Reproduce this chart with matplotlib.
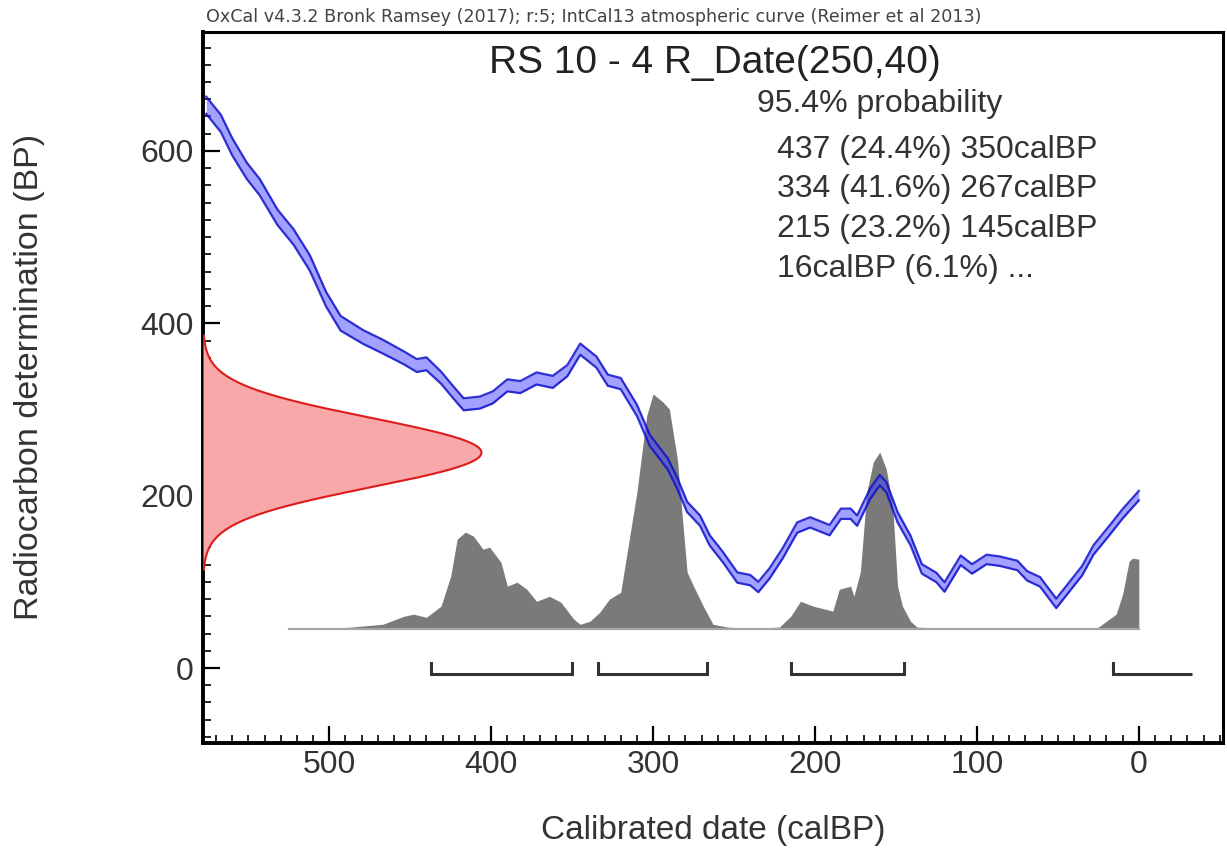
import numpy as np
import matplotlib
matplotlib.use("Agg")
import matplotlib.pyplot as plt
from matplotlib.ticker import MultipleLocator

plt.rcParams['font.family'] = ['Liberation Sans', 'DejaVu Sans']

# ---- data ----
# calibration curve (IntCal13 band): cal BP, radiocarbon BP, 1-sigma half width
CURVE_CAL = [576, 567, 560, 551, 543, 532, 522, 512, 502, 493, 479, 467, 454, 446,
             440, 431, 423, 417, 407, 399, 390, 382, 372, 362, 353, 345, 335, 328,
             320, 310, 302, 291, 285, 279, 271, 265, 257, 248, 240, 235, 228, 220,
             211, 203, 191, 184, 178, 174, 166, 160, 156, 149, 141, 134, 125, 120,
             110, 103, 94, 86, 75, 69, 61, 51, 43, 35, 28, 18, 10, 0]
CURVE_BP = [653, 632, 605, 577, 558, 523, 500, 470, 428, 400, 384, 373, 360, 351,
            353, 337, 319, 306, 308, 314, 328, 326, 336, 332, 345, 370, 355, 334,
            330, 299, 264, 237, 214, 187, 171, 148, 129, 105, 102, 94, 110, 133,
            163, 169, 160, 179, 179, 171, 202, 218, 210, 175, 148, 115, 105, 94,
            125, 115, 126, 124, 119, 107, 100, 75, 94, 113, 137, 160, 179, 200]
CURVE_ERR = [10, 10, 10, 9.5, 9.5, 9, 9, 9, 8.5, 8.5, 8, 8, 7.5, 7.5,
             7.5, 7, 7, 7, 7, 7, 7, 7, 7, 7, 6.5, 6.5, 6.5, 6.5,
             6.5, 6.5, 6.5, 6.5, 6.5, 6, 6, 6, 6, 6, 6, 6, 6, 6,
             6, 6, 6, 6, 6, 6, 6, 6, 6, 6, 5.5, 5.5, 5.5, 5.5,
             5.5, 5.5, 5.5, 5.5, 5.5, 5.5, 5.5, 5.5, 5.5, 5.5, 5.5, 5.5, 5.5, 5.5]

# calibrated posterior (relative probability, % of maximum)
POST_CAL = [525, 500, 487, 467, 454, 448, 440, 431, 425, 421, 416, 411, 405, 401,
            394, 390, 384, 378, 372, 364, 357, 349, 345, 339, 333, 327, 320, 316,
            310, 304, 300, 294, 290, 285, 282, 279, 275, 269, 263, 254, 240, 222,
            215, 209, 201, 189, 185, 178, 176, 172, 168, 164, 160, 156, 152, 149,
            146, 141, 137, 120, 60, 26, 20, 14, 10, 6, 4, 0]
POST_REL = [0, 0.4, 0.9, 2.1, 5.5, 6.4, 5.1, 9.8, 22.6, 38.3, 41.3, 39.6, 34.0, 34.9,
            28.5, 18.3, 20.0, 17.0, 11.9, 14.0, 11.5, 4.3, 2.1, 3.4, 7.2, 12.8, 15.7, 32.8,
            58.3, 90.6, 100, 96.6, 93.6, 72.3, 48.1, 24.3, 18.3, 9.8, 2.1, 0.9, 0.4, 0.9,
            5.5, 11.9, 9.8, 7.7, 17.0, 18.3, 14.0, 24.3, 58.3, 71.1, 75.3, 68.1, 52.3, 18.3,
            9.8, 3.4, 0.9, 0.4, 0.4, 0.4, 3.4, 6.4, 14.9, 28.9, 30.2, 29.8]

# 95.4% ranges (cal BP)
RANGES = [(437, 350), (334, 267), (215, 145), (16, -33)]
RANGE_TEXT = ["437 (24.4%) 350calBP", "334 (41.6%) 267calBP",
              "215 (23.2%) 145calBP", "16calBP (6.1%) ..."]

R_MEAN, R_SIGMA = 250, 40

# ---- figure ----
W, H = 1227, 850
fig = plt.figure(figsize=(W / 100, H / 100), dpi=100)
ax = fig.add_axes([203 / W, 1 - 743 / H, 1020 / W, 711 / H])
XMAX, XMIN = 578, -52
ax.set_xlim(XMAX, XMIN)
ax.set_ylim(-87, 738)

# posterior (grey)
base = 45
peak_h = 273
post_cal = np.array(POST_CAL, dtype=float)
post_top = base + np.array(POST_REL) / 100 * peak_h
ax.fill_between(post_cal, base, post_top, color='#7a7a7a', lw=0, zorder=2)
ax.plot([POST_CAL[0], POST_CAL[-1]], [base, base], color='#a5a5a5', lw=1.6, zorder=2)

# radiocarbon date (red)
yy = np.linspace(R_MEAN - 3.4 * R_SIGMA, R_MEAN + 3.4 * R_SIGMA, 400)
gg = np.exp(-0.5 * ((yy - R_MEAN) / R_SIGMA) ** 2)
red_w = 172
ax.fill_betweenx(yy, XMAX, XMAX - red_w * gg, color='#f8a8a8', lw=0, zorder=3)
ax.plot(XMAX - red_w * gg, yy, color='#dd1c1c', lw=1.5, zorder=3)

# calibration curve (blue)
cc = np.array(CURVE_CAL, dtype=float)
cb = np.array(CURVE_BP, dtype=float)
ce = np.array(CURVE_ERR, dtype=float)
ax.fill_between(cc, cb - ce, cb + ce, color='#4444ff', alpha=0.5, lw=0, zorder=4)
ax.plot(cc, cb + ce, color='#1010cc', lw=1.6, alpha=0.85, zorder=5)
ax.plot(cc, cb - ce, color='#1010cc', lw=1.6, alpha=0.85, zorder=5)

# range brackets
for a, b in RANGES:
    ax.plot([a, b], [-7.5, -7.5], color='#333333', lw=2.2, zorder=5,
            solid_capstyle='butt')
    ax.plot([a, a], [-7.5, 5.5], color='#333333', lw=2.2, zorder=5)
    if b >= 0:
        ax.plot([b, b], [-7.5, 5.5], color='#333333', lw=2.2, zorder=5)

# axes styling
for s in ax.spines.values():
    s.set_linewidth(2.2)
    s.set_color('black')
ax.spines['left'].set_linewidth(2.8)
ax.spines['bottom'].set_linewidth(2.8)
ax.xaxis.set_major_locator(MultipleLocator(100))
ax.xaxis.set_minor_locator(MultipleLocator(10))
ax.yaxis.set_major_locator(MultipleLocator(200))
ax.yaxis.set_minor_locator(MultipleLocator(20))
ax.tick_params(which='both', direction='in', top=False, right=False,
               colors='black', labelcolor='#333333', labelsize=23)
ax.tick_params(which='major', length=12, width=1.6)
ax.tick_params(which='minor', length=6, width=1.2)
ax.tick_params(axis='x', which='major', pad=5)
ax.tick_params(axis='y', which='major', pad=7)

ax.set_xlabel('Calibrated date (calBP)', fontsize=24, color='#333333')
ax.xaxis.label.set_va('center')
ax.xaxis.set_label_coords(0.5, -(830 - 743) / 711)
ax.set_ylabel('Radiocarbon determination (BP)', fontsize=24.5, color='#333333')
ax.yaxis.label.set_va('center')
ax.yaxis.set_label_coords((30 - 203) / 1020, 0.515)

# texts
ax.text(0.502, (743 - 63) / 711, 'RS 10 - 4 R_Date(250,40)', transform=ax.transAxes,
        ha='center', va='center', fontsize=28, color='#222222')
ax.text((757 - 203) / 1020, (743 - 104) / 711, '95.4% probability',
        transform=ax.transAxes, ha='left', va='center', fontsize=23, color='#333333')
for i, t in enumerate(RANGE_TEXT):
    ax.text((777 - 203) / 1020, (743 - (150 + 39.5 * i)) / 711, t,
            transform=ax.transAxes, ha='left', va='center', fontsize=23, color='#333333')

fig.text(206 / W, 1 - 17 / H,
         'OxCal v4.3.2 Bronk Ramsey (2017); r:5; IntCal13 atmospheric curve (Reimer et al 2013)',
         ha='left', va='center', fontsize=12.6, color='#444444', family='DejaVu Sans')

fig.savefig('out.png', dpi=100)
